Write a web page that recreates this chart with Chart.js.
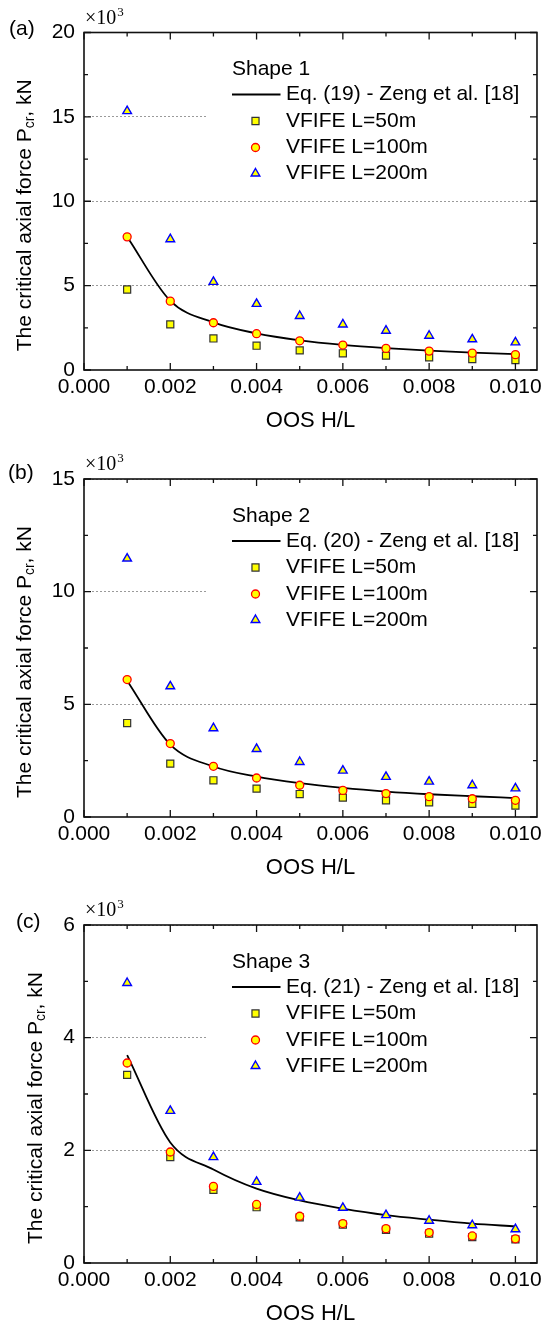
<!DOCTYPE html>
<html lang="en">
<head>
    <meta charset="UTF-8">
    <title>Critical axial force vs OOS</title>
    <script src="https://cdn.jsdelivr.net/npm/chart.js@4.4.0/dist/chart.umd.min.js"></script>
    <style>
        html, body {
            margin: 0;
            padding: 0;
            background: #fff;
            overflow: hidden;
        }
        .panel {
            position: absolute;
            left: 0;
            width: 547px;
        }
    </style>
</head>
<body>
    <div class="panel" style="top:0; height:440px"><canvas id="chartShape1"></canvas></div>
    <div class="panel" style="top:440px; height:447px"><canvas id="chartShape2"></canvas></div>
    <div class="panel" style="top:887px; height:446px"><canvas id="chartShape3"></canvas></div>

    <script>
        // OOS ratio H/L
        const oosRatio = [0.001, 0.002, 0.003, 0.004, 0.005, 0.006, 0.007, 0.008, 0.009, 0.010];

        // Critical axial force, x10^3 kN
        const shape1Eq   = [7.90, 4.10, 2.82, 2.17, 1.76, 1.49, 1.30, 1.15, 1.03, 0.94];
        const shape1L50  = [4.77, 2.70, 1.87, 1.44, 1.16, 0.99, 0.85, 0.75, 0.65, 0.59];
        const shape1L100 = [7.89, 4.08, 2.80, 2.15, 1.73, 1.48, 1.28, 1.12, 1.00, 0.91];
        const shape1L200 = [15.34, 7.75, 5.22, 3.92, 3.20, 2.70, 2.33, 2.03, 1.82, 1.64];

        const shape2Eq   = [6.05, 3.21, 2.24, 1.79, 1.50, 1.29, 1.13, 1.01, 0.92, 0.84];
        const shape2L50  = [4.17, 2.37, 1.63, 1.26, 1.02, 0.86, 0.74, 0.65, 0.58, 0.51];
        const shape2L100 = [6.10, 3.26, 2.25, 1.73, 1.41, 1.18, 1.04, 0.90, 0.81, 0.74];
        const shape2L200 = [11.47, 5.80, 3.94, 3.02, 2.44, 2.06, 1.78, 1.57, 1.41, 1.27];

        const shape3Eq   = [3.69, 2.14, 1.66, 1.32, 1.11, 0.965, 0.85, 0.77, 0.70, 0.65];
        const shape3L50  = [3.34, 1.88, 1.30, 0.99, 0.81, 0.68, 0.59, 0.52, 0.46, 0.42];
        const shape3L100 = [3.55, 1.97, 1.36, 1.04, 0.83, 0.70, 0.61, 0.54, 0.48, 0.43];
        const shape3L200 = [4.97, 2.70, 1.88, 1.44, 1.16, 0.98, 0.85, 0.75, 0.67, 0.60];

        const SANS = "'Liberation Sans', Arial, sans-serif";
        const SERIF = "'Liberation Serif', 'Times New Roman', serif";

        Chart.defaults.font.family = SANS;
        Chart.defaults.color = '#000';

        function pairs(values) {
            return oosRatio.map((x, i) => ({ x: x, y: values[i] }));
        }

        // Frame, inward ticks, legend and axis annotations
        const panelDecor = {
            id: 'panelDecor',
            beforeDatasetsDraw(chart) {
                const { ctx, chartArea: a } = chart;
                // legend background hides the grid behind it
                ctx.save();
                ctx.fillStyle = '#fff';
                ctx.fillRect(207, a.top + 1, a.right - 208, 155);
                ctx.restore();
            },
            afterDraw(chart, args, opts) {
                const { ctx, chartArea: a, scales: { x, y } } = chart;
                ctx.save();

                ctx.strokeStyle = '#111';
                ctx.lineWidth = 1.6;
                ctx.strokeRect(a.left, a.top, a.right - a.left, a.bottom - a.top);

                // ticks pointing into the plot on all four sides
                ctx.lineWidth = 1.3;
                ctx.beginPath();
                const xHalf = x.options.ticks.stepSize / 2;
                x.ticks.forEach(t => {
                    [[t.value, 7], [t.value + xHalf, 4]].forEach(([v, len]) => {
                        if (v > x.max) return;
                        const px = x.getPixelForValue(v);
                        ctx.moveTo(px, a.bottom); ctx.lineTo(px, a.bottom - len);
                        ctx.moveTo(px, a.top); ctx.lineTo(px, a.top + len);
                    });
                });
                const yHalf = y.options.ticks.stepSize / 2;
                y.ticks.forEach(t => {
                    [[t.value, 7], [t.value + yHalf, 4]].forEach(([v, len]) => {
                        if (v > y.max) return;
                        const py = y.getPixelForValue(v);
                        ctx.moveTo(a.left, py); ctx.lineTo(a.left + len, py);
                        ctx.moveTo(a.right, py); ctx.lineTo(a.right - len, py);
                    });
                });
                ctx.stroke();

                // legend
                ctx.fillStyle = '#000';
                ctx.textBaseline = 'middle';
                ctx.textAlign = 'left';
                ctx.font = '21px ' + SANS;
                ctx.fillText(opts.shapeLabel, 232, a.top + 37);

                const rows = [62, 88.5, 115, 141];
                chart.data.datasets.forEach((ds, i) => {
                    const ry = a.top + rows[i];
                    if (ds.showLine) {
                        ctx.strokeStyle = ds.borderColor;
                        ctx.lineWidth = ds.borderWidth;
                        ctx.beginPath();
                        ctx.moveTo(232, ry); ctx.lineTo(280.5, ry);
                        ctx.stroke();
                    } else {
                        ctx.fillStyle = ds.backgroundColor;
                        ctx.strokeStyle = ds.borderColor;
                        ctx.lineWidth = ds.borderWidth;
                        Chart.helpers.drawPoint(ctx, {
                            pointStyle: ds.pointStyle,
                            radius: ds.pointRadius,
                            rotation: 0,
                            borderWidth: ds.borderWidth
                        }, 255.5, ry);
                    }
                    ctx.fillStyle = '#000';
                    ctx.font = '21px ' + SANS;
                    ctx.fillText(ds.label, 286, ry);
                });

                // y axis title with subscript
                const main = 'The critical axial force P';
                const tail = ', kN';
                ctx.font = '21px ' + SANS;
                const w1 = ctx.measureText(main).width;
                const w3 = ctx.measureText(tail).width;
                ctx.font = '14px ' + SANS;
                const w2 = ctx.measureText('cr').width;
                ctx.save();
                ctx.translate(opts.titleX, (a.top + a.bottom) / 2 + 14);
                ctx.rotate(-Math.PI / 2);
                let sx = -(w1 + w2 + w3) / 2;
                ctx.font = '21px ' + SANS;
                ctx.fillText(main, sx, 0);
                sx += w1;
                ctx.font = '14px ' + SANS;
                ctx.fillText('cr', sx, 5);
                sx += w2;
                ctx.font = '21px ' + SANS;
                ctx.fillText(tail, sx, 0);
                ctx.restore();

                // panel letter and axis multiplier
                ctx.font = '21px ' + SANS;
                ctx.fillText(opts.letter, opts.letterX, a.top + opts.letterDy);
                ctx.font = '20px ' + SERIF;
                ctx.fillText('\u00d710', 85, a.top - 14);
                const wm = ctx.measureText('\u00d710').width;
                ctx.font = '13px ' + SERIF;
                ctx.fillText('3', 85 + wm + 1, a.top - 20);

                ctx.restore();
            }
        };

        function createPanel(canvasId, cfg) {
            return new Chart(document.getElementById(canvasId), {
                type: 'scatter',
                data: {
                    datasets: [
                        {
                            label: cfg.eqLabel,
                            data: pairs(cfg.eq),
                            showLine: true,
                            pointRadius: 0,
                            borderColor: '#000',
                            borderWidth: 1.8,
                            cubicInterpolationMode: 'monotone',
                            order: 3
                        },
                        {
                            label: 'VFIFE L=50m',
                            data: pairs(cfg.l50),
                            pointStyle: 'rect',
                            pointRadius: 5,
                            backgroundColor: '#ffff00',
                            borderColor: '#333',
                            borderWidth: 1.2,
                            order: 2
                        },
                        {
                            label: 'VFIFE L=100m',
                            data: pairs(cfg.l100),
                            pointStyle: 'circle',
                            pointRadius: 4,
                            backgroundColor: '#ffff00',
                            borderColor: '#ff0000',
                            borderWidth: 1.3,
                            order: 1
                        },
                        {
                            label: 'VFIFE L=200m',
                            data: pairs(cfg.l200),
                            pointStyle: 'triangle',
                            pointRadius: 5,
                            backgroundColor: '#ffff00',
                            borderColor: '#0000ff',
                            borderWidth: 1.4,
                            order: 0
                        }
                    ]
                },
                options: {
                    responsive: true,
                    maintainAspectRatio: false,
                    devicePixelRatio: 1,
                    animation: false,
                    events: [],
                    layout: { padding: { top: cfg.padTop, right: 5.5, left: 0, bottom: 0 } },
                    plugins: {
                        legend: { display: false },
                        tooltip: { enabled: false },
                        panelDecor: {
                            shapeLabel: cfg.shapeLabel,
                            letter: cfg.letter,
                            letterX: cfg.letterX,
                            letterDy: cfg.letterDy,
                            titleX: cfg.titleX
                        }
                    },
                    scales: {
                        x: {
                            type: 'linear',
                            min: 0,
                            max: 0.0105,
                            grid: { display: false, drawTicks: false },
                            border: { display: false },
                            ticks: {
                                stepSize: 0.002,
                                includeBounds: false,
                                autoSkip: false,
                                maxRotation: 0,
                                padding: 5,
                                font: { size: 21 },
                                callback: v => v.toFixed(3)
                            },
                            title: {
                                display: true,
                                text: 'OOS H/L',
                                font: { size: 22 },
                                padding: { top: 0, bottom: 6 }
                            },
                            afterFit: s => { s.height = 70; }
                        },
                        y: {
                            type: 'linear',
                            min: 0,
                            max: cfg.yMax,
                            grid: {
                                color: c => (c.tick && c.tick.value > 0) ? '#9a9a9a' : 'rgba(0,0,0,0)',
                                lineWidth: 1,
                                drawTicks: false
                            },
                            border: { display: false, dash: [2, 2] },
                            ticks: { stepSize: cfg.yStep, padding: 9, font: { size: 21 } },
                            afterFit: s => { s.width = 84; }
                        }
                    }
                },
                plugins: [panelDecor]
            });
        }

        createPanel('chartShape1', {
            eq: shape1Eq, l50: shape1L50, l100: shape1L100, l200: shape1L200,
            eqLabel: 'Eq. (19) - Zeng et al. [18]', shapeLabel: 'Shape 1',
            yMax: 20, yStep: 5, padTop: 32.5,
            letter: '(a)', letterX: 9, letterDy: -3, titleX: 25
        });
        createPanel('chartShape2', {
            eq: shape2Eq, l50: shape2L50, l100: shape2L100, l200: shape2L200,
            eqLabel: 'Eq. (20) - Zeng et al. [18]', shapeLabel: 'Shape 2',
            yMax: 15, yStep: 5, padTop: 39,
            letter: '(b)', letterX: 8, letterDy: -6, titleX: 25
        });
        createPanel('chartShape3', {
            eq: shape3Eq, l50: shape3L50, l100: shape3L100, l200: shape3L200,
            eqLabel: 'Eq. (21) - Zeng et al. [18]', shapeLabel: 'Shape 3',
            yMax: 6, yStep: 2, padTop: 38,
            letter: '(c)', letterX: 16, letterDy: -3, titleX: 36
        });
    </script>
</body>
</html>
